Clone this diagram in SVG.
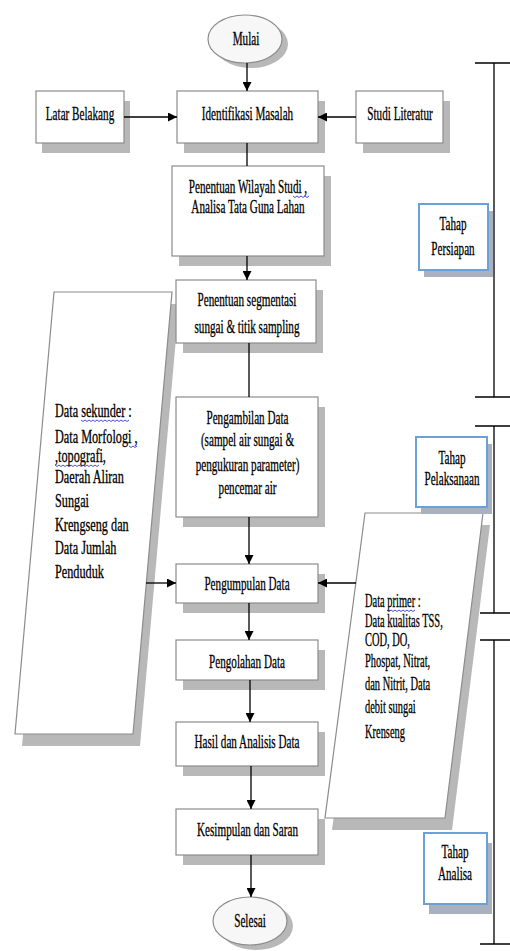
<svg xmlns="http://www.w3.org/2000/svg" width="510" height="951" viewBox="0 0 510 951">
<defs>
<marker id="ah" markerUnits="userSpaceOnUse" markerWidth="9" markerHeight="9" refX="9" refY="4.5" orient="auto"><path d="M0,0 L9,4.5 L0,9 z" fill="#000"/></marker>
</defs>
<style>
.bx{fill:#fff;stroke:#8c8c8c;stroke-width:1.2}
.el{fill:#f7f7f7;stroke:#8c8c8c;stroke-width:1.2}
.sh{fill:#b8b8b8}
.tb{fill:#fff;stroke:#6aa2d8;stroke-width:2}
.tsh{fill:#a8b1bd}
.t{font-family:"Liberation Serif","Times New Roman",serif;font-size:18px;fill:#000;stroke:#000;stroke-width:0.3}
.c{text-anchor:middle}
.ln{stroke:#000;stroke-width:1.3;fill:none}
.ar{marker-end:url(#ah)}
.wv{stroke:#3a3acc;stroke-width:0.9;fill:none}
</style>
<rect width="510" height="951" fill="#fff"/>

<g id="data-sekunder">
<polygon class="sh" points="61,304 179,304 140,746 22,746"/>
<polygon class="bx" points="54,292 172,292 133,734 15,734"/>
<text class="t" transform="translate(55,417) scale(0.68,1)">Data sekunder :</text>
<text class="t" transform="translate(55,443) scale(0.68,1)">Data Morfologi ,</text>
<text class="t" transform="translate(55,462) scale(0.68,1)">,topografi,</text>
<text class="t" transform="translate(55,483) scale(0.68,1)">Daerah Aliran</text>
<text class="t" transform="translate(55,507) scale(0.68,1)">Sungai</text>
<text class="t" transform="translate(55,531) scale(0.68,1)">Krengseng dan</text>
<text class="t" transform="translate(55,554) scale(0.68,1)">Data Jumlah</text>
<text class="t" transform="translate(55,578) scale(0.68,1)">Penduduk</text>
<path class="wv" d="M81,420 l2,1.5 l2,-1.5 l2,1.5 l2,-1.5 l2,1.5 l2,-1.5 l2,1.5 l2,-1.5 l2,1.5 l2,-1.5 l2,1.5 l2,-1.5 l2,1.5 l2,-1.5 l2,1.5 l2,-1.5 l2,1.5 l2,-1.5 l2,1.5 l2,-1.5 l2,1.5 l2,-1.5 l2,1.5 l2,-1.5"/>
<path class="wv" d="M129,446 l2,1.5 l2,-1.5 l2,1.5 l2,-1.5"/>
<path class="wv" d="M55,465 l2,1.5 l2,-1.5 l2,1.5 l2,-1.5 l2,1.5 l2,-1.5 l2,1.5 l2,-1.5 l2,1.5 l2,-1.5 l2,1.5 l2,-1.5 l2,1.5 l2,-1.5 l2,1.5 l2,-1.5 l2,1.5 l2,-1.5 l2,1.5 l2,-1.5 l2,1.5 l2,-1.5"/>
</g>

<g id="data-primer">
<polygon class="sh" points="372,525 490,525 452,830 332,830"/>
<polygon class="bx" points="365,513 483,513 445,818 325,818"/>
<text class="t" transform="translate(365,607) scale(0.58,1)">Data primer :</text>
<text class="t" transform="translate(365,627) scale(0.58,1)">Data kualitas TSS,</text>
<text class="t" transform="translate(365,646) scale(0.58,1)">COD, DO,</text>
<text class="t" transform="translate(365,667) scale(0.58,1)">Phospat, Nitrat,</text>
<text class="t" transform="translate(365,690) scale(0.58,1)">dan Nitrit, Data</text>
<text class="t" transform="translate(365,713) scale(0.58,1)">debit sungai</text>
<text class="t" transform="translate(365,738) scale(0.58,1)">Krenseng</text>
<path class="wv" d="M387,610 l2,1.5 l2,-1.5 l2,1.5 l2,-1.5 l2,1.5 l2,-1.5 l2,1.5 l2,-1.5 l2,1.5 l2,-1.5 l2,1.5 l2,-1.5 l2,1.5 l2,-1.5"/>
</g>

<g id="mulai">
<ellipse class="sh" cx="251" cy="44" rx="37" ry="24"/>
<ellipse class="el" cx="245" cy="39" rx="37" ry="24"/>
<text class="t c" transform="translate(246,45) scale(0.62,1)">Mulai</text>
</g>

<g id="latar-belakang">
<rect class="sh" x="42" y="101" width="88" height="52"/>
<rect class="bx" x="36" y="91" width="88" height="52"/>
<text class="t c" transform="translate(80,120) scale(0.62,1)">Latar Belakang</text>
</g>

<g id="identifikasi-masalah">
<rect class="sh" x="184" y="101" width="141" height="52"/>
<rect class="bx" x="177" y="91" width="141" height="52"/>
<text class="t c" transform="translate(247.5,120) scale(0.62,1)">Identifikasi Masalah</text>
</g>

<g id="studi-literatur">
<rect class="sh" x="363" y="101" width="87" height="52"/>
<rect class="bx" x="356" y="91" width="87" height="52"/>
<text class="t c" transform="translate(400,120) scale(0.62,1)">Studi Literatur</text>
</g>

<g id="penentuan-wilayah">
<rect class="sh" x="179" y="176" width="152" height="90"/>
<rect class="bx" x="172" y="166" width="152" height="90"/>
<text class="t c" transform="translate(248,193) scale(0.62,1)">Penentuan Wilayah Studi ,</text>
<text class="t c" transform="translate(248,213) scale(0.62,1)">Analisa Tata Guna Lahan</text>
<path class="wv" d="M293,196 l2,1.5 l2,-1.5 l2,1.5 l2,-1.5 l2,1.5 l2,-1.5 l2,1.5 l2,-1.5"/>
</g>

<g id="penentuan-segmentasi">
<rect class="sh" x="183" y="290" width="140" height="63"/>
<rect class="bx" x="176" y="280" width="140" height="63"/>
<text class="t c" transform="translate(247,306) scale(0.62,1)">Penentuan segmentasi</text>
<text class="t c" transform="translate(247,333) scale(0.62,1)">sungai &amp; titik sampling</text>
</g>

<g id="pengambilan-data">
<rect class="sh" x="183" y="407" width="142" height="120"/>
<rect class="bx" x="176" y="397" width="142" height="120"/>
<text class="t c" transform="translate(247.5,424) scale(0.62,1)">Pengambilan Data</text>
<text class="t c" transform="translate(247.5,446) scale(0.62,1)">(sampel air sungai &amp;</text>
<text class="t c" transform="translate(247.5,471) scale(0.62,1)">pengukuran parameter)</text>
<text class="t c" transform="translate(247.5,494) scale(0.62,1)">pencemar air</text>
</g>

<g id="pengumpulan-data">
<rect class="sh" x="183" y="574" width="142" height="39"/>
<rect class="bx" x="176" y="564" width="142" height="39"/>
<text class="t c" transform="translate(247,590) scale(0.62,1)">Pengumpulan Data</text>
</g>

<g id="pengolahan-data">
<rect class="sh" x="183" y="650" width="142" height="40"/>
<rect class="bx" x="176" y="640" width="142" height="40"/>
<text class="t c" transform="translate(247,668) scale(0.62,1)">Pengolahan Data</text>
</g>

<g id="hasil-analisis">
<rect class="sh" x="183" y="732" width="142" height="44"/>
<rect class="bx" x="176" y="722" width="142" height="44"/>
<text class="t c" transform="translate(247,748) scale(0.62,1)">Hasil dan Analisis Data</text>
</g>

<g id="kesimpulan-saran">
<rect class="sh" x="183" y="819" width="142" height="46"/>
<rect class="bx" x="176" y="809" width="142" height="46"/>
<text class="t c" transform="translate(247.5,836) scale(0.62,1)">Kesimpulan dan Saran</text>
</g>

<g id="selesai">
<ellipse class="sh" cx="256" cy="926" rx="37" ry="24"/>
<ellipse class="el" cx="250" cy="921" rx="37" ry="24"/>
<text class="t c" transform="translate(250,927) scale(0.62,1)">Selesai</text>
</g>

<g id="tahap-persiapan">
<rect class="tsh" x="424" y="211" width="69" height="66"/>
<rect class="tb" x="419" y="204" width="69" height="66"/>
<text class="t c" transform="translate(453,230) scale(0.62,1)">Tahap</text>
<text class="t c" transform="translate(453,255) scale(0.62,1)">Persiapan</text>
</g>

<g id="tahap-pelaksanaan">
<rect class="tsh" x="421" y="444" width="71" height="70"/>
<rect class="tb" x="416" y="437" width="71" height="70"/>
<text class="t c" transform="translate(452,464) scale(0.62,1)">Tahap</text>
<text class="t c" transform="translate(452,485) scale(0.62,1)">Pelaksanaan</text>
</g>

<g id="tahap-analisa">
<rect class="tsh" x="429" y="843" width="63" height="71"/>
<rect class="tb" x="424" y="833" width="63" height="71"/>
<text class="t c" transform="translate(455,858) scale(0.62,1)">Tahap</text>
<text class="t c" transform="translate(455,880) scale(0.62,1)">Analisa</text>
</g>

<g id="brackets" class="ln">
<path d="M475,63 H510 M494,63 V397 M475,397 H510"/>
<path d="M475,426 H510 M494,426 V613 M480,613 H510"/>
<path d="M480,640 H510 M494,640 V944 M480,944 H510"/>
</g>

<g id="connectors" class="ln">
<path class="ar" d="M247,63 V91"/>
<path class="ar" d="M124,117 H177"/>
<path class="ar" d="M356,117 H318"/>
<path d="M247,143 V166"/>
<path class="ar" d="M247,256 V280"/>
<path d="M249,343 V397"/>
<path class="ar" d="M249,517 V564"/>
<path class="ar" d="M146,583 H176"/>
<path class="ar" d="M356,583 H318"/>
<path class="ar" d="M249,603 V640"/>
<path class="ar" d="M250,680 V722"/>
<path class="ar" d="M251,766 V809"/>
<path class="ar" d="M251,855 V897"/>
</g>
</svg>
